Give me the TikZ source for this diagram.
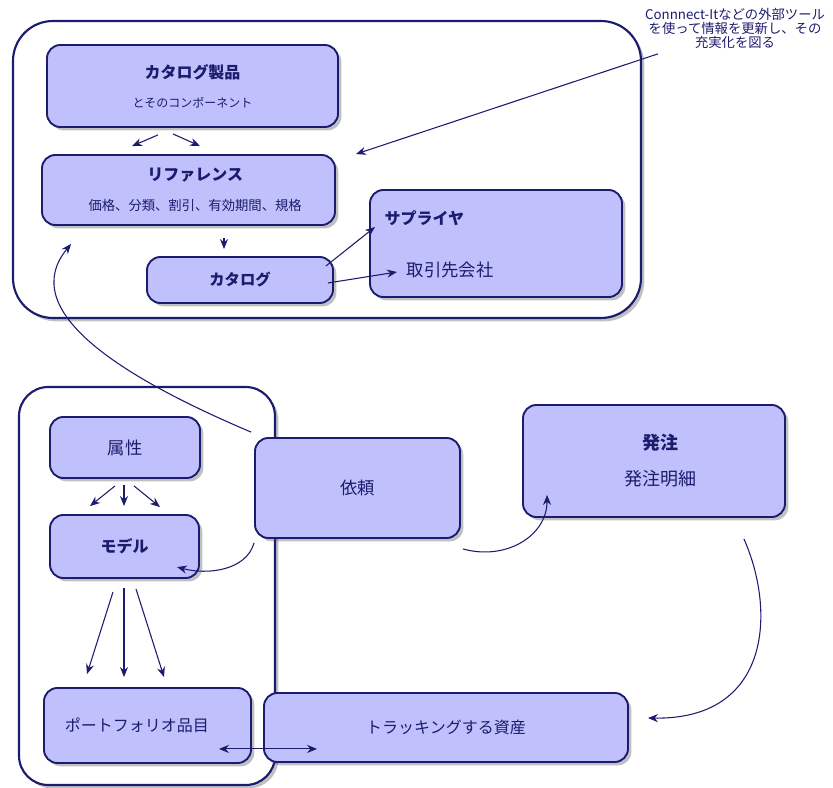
\documentclass[tikz,border=0pt]{standalone}
\usepackage{fontspec}
\setmainfont{Noto Sans CJK JP}
\usetikzlibrary{arrows.meta, positioning, calc, shadows}

\definecolor{navy}{RGB}{28,28,110}
\definecolor{boxfill}{RGB}{192,192,252}

\tikzset{
  zone/.style={draw=navy, line width=1.6pt, fill=white, rounded corners=30pt, inner sep=0pt,
    drop shadow={shadow xshift=2.5pt, shadow yshift=-2.5pt, opacity=0.35, fill=black!70}},
  unit/.style={draw=navy, line width=1.4pt, fill=boxfill, rounded corners=10pt, inner sep=0pt,
    text=navy, align=center,
    drop shadow={shadow xshift=2.5pt, shadow yshift=-2.5pt, opacity=0.35, fill=black!70}},
  conn/.style={navy, line width=0.8pt, -{Stealth[length=7.5pt,width=6pt]}},
}

\begin{document}
\begin{tikzpicture}[x=0.75pt, y=-0.75pt]
    \useasboundingbox (0,0) rectangle (833,788);

    % Containers
    \node (catzone) [zone, minimum width=471pt, minimum height=222.75pt] at (327,169.5) {};
    \node (assetzone) [zone, rounded corners=22pt, minimum width=192pt, minimum height=298.5pt] at (147,586) {};

    % Catalogue side
    \node (cp) [unit, minimum width=218.25pt, minimum height=61.5pt, font=\fontsize{12}{21.75}\selectfont] at (192.5,86)
        {{\bfseries カタログ製品}\\{\fontsize{9}{21.75}\selectfont とそのコンポーネント}};
    \node (ref) [unit, minimum width=219.75pt, minimum height=52.5pt, font=\fontsize{12}{22.5}\selectfont] at (188.5,190)
        {\hspace*{10pt}{\bfseries リファレンス}\\\hspace*{10pt}{\fontsize{10}{22.5}\selectfont 価格、分類、割引、有効期間、規格}};
    \node (cat) [unit, minimum width=139.5pt, minimum height=34.5pt, font=\bfseries\fontsize{11.5}{14}\selectfont] at (240,280) {カタログ};
    \node (supbox) [unit, minimum width=189pt, minimum height=80.25pt] at (496,243.5) {};
    \node (sup) [anchor=west, text=navy, font=\bfseries\fontsize{12}{14}\selectfont] at (380,218) {サプライヤ};
    \node (tor) [anchor=west, text=navy, font=\fontsize{13}{15}\selectfont] at (402,270) {取引先会社};
    \node (note) [text=navy, align=center, font=\fontsize{10}{10.5}\selectfont] at (735,28)
        {Connnect-Itなどの外部ツール\\を使って情報を更新し、その\\充実化を図る};

    % Asset side
    \node (attr) [unit, minimum width=112.5pt, minimum height=45.75pt, font=\fontsize{13}{15}\selectfont] at (125,447.5) {属性};
    \node (model) [unit, minimum width=111.75pt, minimum height=47.25pt, font=\bfseries\fontsize{12}{14}\selectfont] at (124.5,546.5) {モデル};
    \node (port) [unit, minimum width=155.25pt, minimum height=56.25pt, font=\fontsize{12}{14}\selectfont] at (147.5,725.5)
        {ポートフォリオ品目\hspace*{16pt}};
    \node (req) [unit, minimum width=153.75pt, minimum height=75pt, font=\fontsize{13}{15}\selectfont] at (357.5,488) {依頼};
    \node (track) [unit, minimum width=273pt, minimum height=51.75pt, font=\fontsize{12}{14}\selectfont] at (446,727.5) {トラッキングする資産};
    \node (po) [unit, minimum width=196.5pt, minimum height=84pt, font=\fontsize{13.5}{27}\selectfont] at (654,461)
        {\hspace*{9pt}{\bfseries 発注}\\\hspace*{9pt}発注明細};

    % Arrows in the catalogue
    \draw[conn] ($(cp.south)+(-34.5,7)$) -- ($(ref.north)+(-56.5,-8)$);
    \draw[conn] ($(cp.south)+(-19.5,6)$) -- ($(ref.north)+(11.5,-8)$);
    \draw[conn] ($(ref.south)+(35.5,12)$) -- ($(cat.north)+(-16,-7)$);
    \draw[conn] ($(cat.east)+(-8,-14)$) -- ($(sup.west)+(-5,9)$);
    \draw[conn] ($(cat.east)+(-6,3)$) -- ($(tor.west)+(-5,2)$);
    \draw[conn] ($(note.south)+(-77,1)$) -- ($(ref.north east)+(20,0)$);

    % Arrows in the assets
    \draw[conn] ($(attr.south)+(-10,7)$) -- ($(model.north)+(-34.5,-8)$);
    \draw[conn] ($(attr.south)+(-1,6)$) -- ($(model.north)+(-0.5,-8)$);
    \draw[conn] ($(attr.south)+(9,7)$) -- ($(model.north)+(35.5,-7)$);
    \draw[conn] ($(model.south)+(-11.5,13)$) -- ($(port.north)+(-60.5,-13)$);
    \draw[conn] ($(model.south)+(-0.5,9)$) -- ($(port.north)+(-23.5,-10)$);
    \draw[conn] ($(model.south)+(11.5,10)$) -- ($(port.north)+(16.5,-10)$);

    % Curved links
    \draw[conn] ($(req.south west)+(0,4)$) .. controls +(-8,28) and +(30,8) .. ($(model.east)+(-23,20.5)$);
    \draw[conn] ($(req.north west)+(-3,-5)$) .. controls +(-130,-55) and +(-55,67) .. ($(ref.south west)+(30,18)$);
    \draw[conn] ($(req.south east)+(2,10)$) .. controls +(43,12) and +(0,41) .. ($(po.south west)+(25,-23)$);
    \draw[conn] ($(po.south east)+(-42,21)$) .. controls +(32,72) and +(123,2) .. ($(track.east)+(19,-9.5)$);
    \draw[conn, {Stealth[length=7.5pt,width=6pt]}-{Stealth[length=7.5pt,width=6pt]}]
        ($(port.south east)+(-33,-15)$) -- ($(track.south west)+(54,-14)$);
\end{tikzpicture}
\end{document}
